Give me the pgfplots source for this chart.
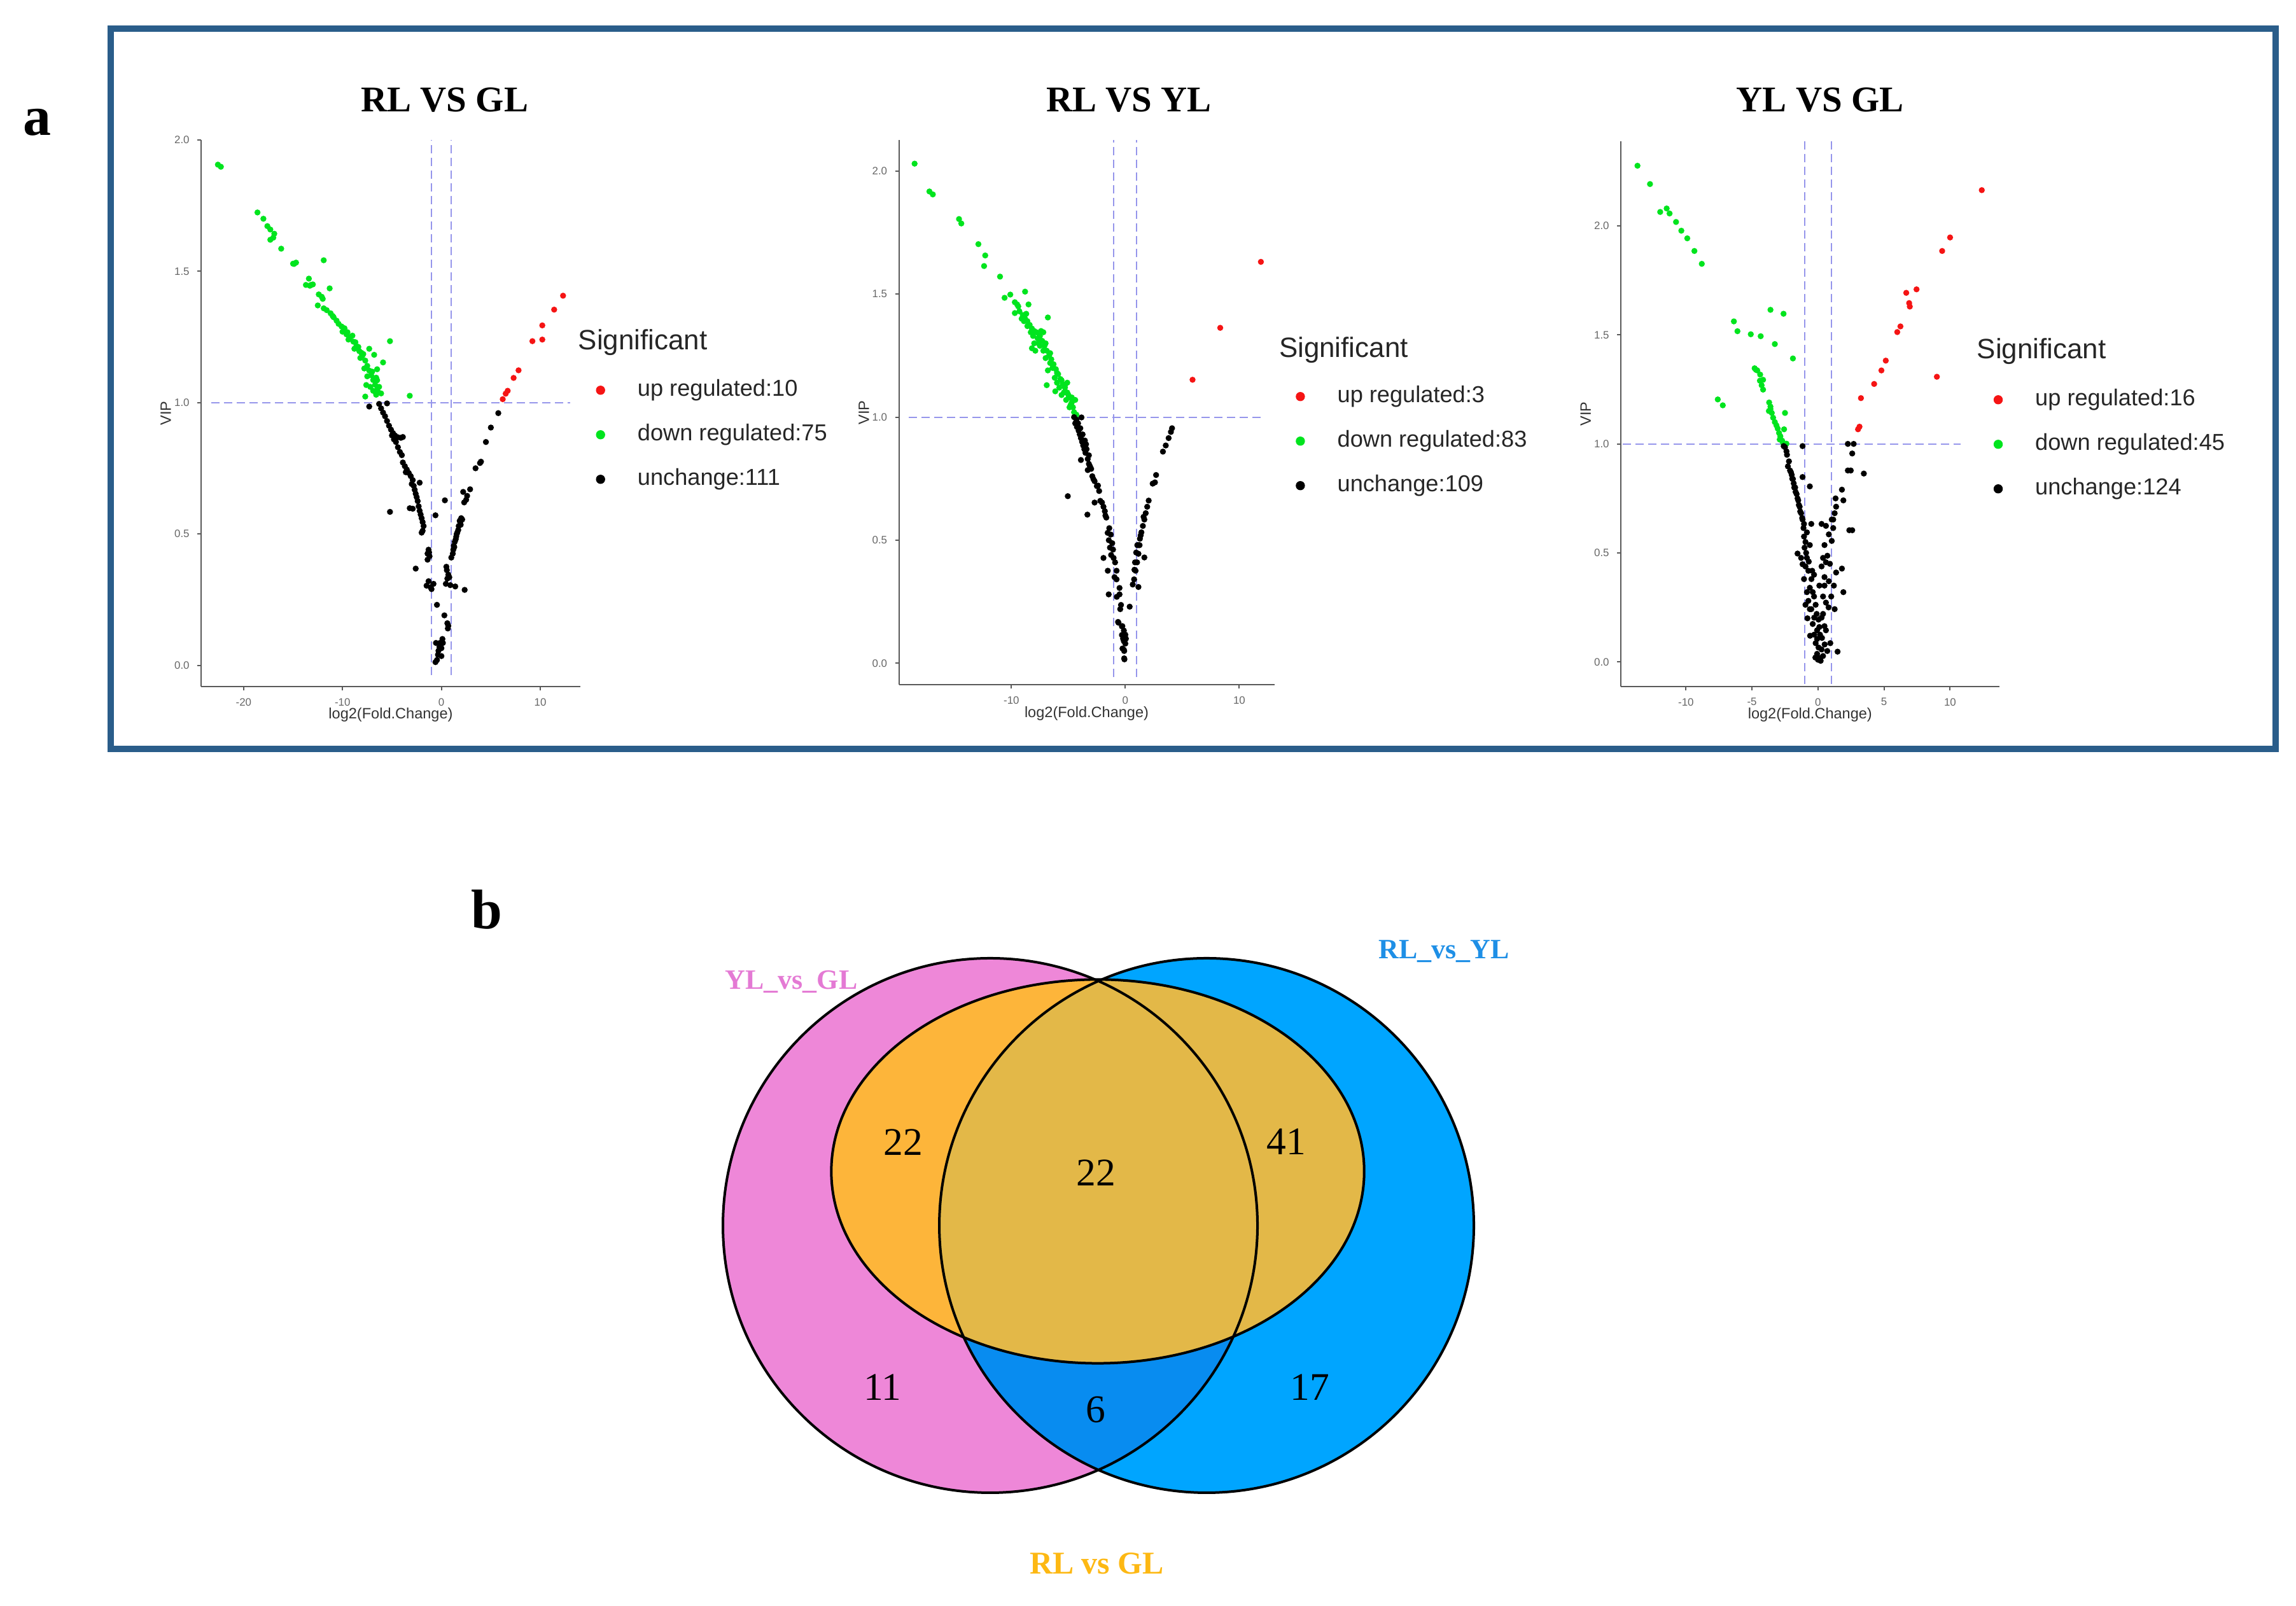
\documentclass[border=0pt]{standalone}
\usepackage{fontspec}
\setmainfont{Liberation Serif}
\newfontfamily\arial{Liberation Sans}
\usepackage{pgfplots}
\pgfplotsset{compat=1.18}
\definecolor{frameblue}{RGB}{42,93,138}
\definecolor{vred}{RGB}{245,20,20}
\definecolor{vgreen}{RGB}{0,228,30}
\definecolor{lav}{RGB}{150,150,235}
\definecolor{vpink}{RGB}{238,135,216}
\definecolor{vblue}{RGB}{0,165,255}
\definecolor{vdblue}{RGB}{8,140,240}
\definecolor{vorange}{RGB}{253,181,58}
\definecolor{vgold}{RGB}{227,184,72}
\definecolor{lpink}{RGB}{228,122,212}
\definecolor{lblue}{RGB}{30,143,230}
\definecolor{lgold}{RGB}{253,184,19}
\pgfplotsset{
  volcano/.style={
    scale only axis, axis lines=left,
    axis line style={-, black!65, line width=0.2mm},
    tick align=outside, major tick length=0.6mm,
    tick style={black!65, line width=0.2mm},
    ytick={0,0.5,1,1.5,2},
    yticklabel style={/pgf/number format/fixed, /pgf/number format/fixed zerofill, /pgf/number format/precision=1},
    tick label style={font=\arial\fontsize{4.8}{5}\selectfont, text=black!60},
    /pgf/number format/assume math mode=true,
    xlabel={log2(Fold.Change)}, ylabel={VIP},
    label style={font=\arial\fontsize{6.7}{8}\selectfont, text=black!80},
    xlabel style={at={(axis description cs:0.5,-0.052)}, anchor=center},
    ylabel style={at={(axis description cs:-0.093,0.5)}, anchor=center},
    clip=false,
    legend cell align=left,
    legend style={draw=none, fill=none, inner sep=0pt, outer sep=0pt, anchor=north west,
       font=\arial\fontsize{10.3}{12}\selectfont, row sep=3.6mm, column sep=5.1mm,
       nodes={inner sep=0pt, text height=2.6mm, text depth=0.8mm, text=black!85}},
  },
  vpt/.style={only marks, mark=*, mark size=0.4mm, mark options={draw=none, fill=#1}, color=#1,
     legend image code/.code={\fill[#1] (0,0) circle (0.65mm);}},
  vline/.style={lav, dash pattern=on 1.3mm off 0.7mm, line width=0.2mm, forget plot},
}
\begin{document}
\begin{tikzpicture}
\path[use as bounding box] (0,0) rectangle (360.8mm,252.4mm);
% ---------- background: frame, Venn, texts ----------
\begin{axis}[at={(0mm,0mm)}, anchor=south west, scale only axis, width=360.8mm, height=252.4mm,
  xmin=0, xmax=3608, ymin=0, ymax=2524, hide axis, clip=false]
\draw[frameblue, line width=1mm] (axis cs:174,1347) rectangle (axis cs:3575.5,2479);
\node[font=\bfseries\fontsize{25}{30}\selectfont, anchor=base, inner sep=0pt] at (axis cs:58.5,2311) {a};
\node[font=\bfseries\fontsize{25}{30}\selectfont, anchor=base, inner sep=0pt] at (axis cs:765,1064) {b};
\node[font=\bfseries\fontsize{16.2}{19}\selectfont, inner sep=0pt] at (axis cs:698.75,2367.2) {RL VS GL};
\node[font=\bfseries\fontsize{16.2}{19}\selectfont, inner sep=0pt] at (axis cs:1773.8,2367.2) {RL VS YL};
\node[font=\bfseries\fontsize{16.2}{19}\selectfont, inner sep=0pt] at (axis cs:2860,2367.2) {YL VS GL};
\node[font=\arial\fontsize{12.5}{14}\selectfont, anchor=base west, inner sep=0pt, text=black!85] at (axis cs:908,1974) {Significant};
\node[font=\arial\fontsize{12.5}{14}\selectfont, anchor=base west, inner sep=0pt, text=black!85] at (axis cs:2009.3,1962.3) {Significant};
\node[font=\arial\fontsize{12.5}{14}\selectfont, anchor=base west, inner sep=0pt, text=black!85] at (axis cs:3106,1960.7) {Significant};
% Venn
\fill[vpink] (axis cs:1556,598) circle [radius=42mm];
\fill[vblue] (axis cs:1896,598) circle [radius=42mm];
\begin{scope}
 \clip (axis cs:1556,598) circle [radius=42mm];
 \fill[vdblue] (axis cs:1896,598) circle [radius=42mm];
\end{scope}
\fill[vgold] (axis cs:1725,683) ellipse [x radius=41.87mm, y radius=30.16mm];
\begin{scope}
 \clip (axis cs:1725,683) ellipse [x radius=41.87mm, y radius=30.16mm];
 \clip (axis cs:1556,598) circle [radius=42mm];
 \fill[vorange] (axis cs:1556,598) circle [radius=42mm];
 \fill[vgold] (axis cs:1896,598) circle [radius=42mm];
\end{scope}
\draw[black, line width=0.4mm] (axis cs:1556,598) circle [radius=42mm];
\draw[black, line width=0.4mm] (axis cs:1896,598) circle [radius=42mm];
\draw[black, line width=0.4mm] (axis cs:1725,683) ellipse [x radius=41.87mm, y radius=30.16mm];
\node[font=\fontsize{17.5}{20}\selectfont, inner sep=0pt] at (axis cs:1419,729.3) {22};
\node[font=\fontsize{17.5}{20}\selectfont, inner sep=0pt] at (axis cs:1722,680.6) {22};
\node[font=\fontsize{17.5}{20}\selectfont, inner sep=0pt] at (axis cs:2021,729.3) {41};
\node[font=\fontsize{17.5}{20}\selectfont, inner sep=0pt] at (axis cs:1387,344) {11};
\node[font=\fontsize{17.5}{20}\selectfont, inner sep=0pt] at (axis cs:1722,309) {6};
\node[font=\fontsize{17.5}{20}\selectfont, inner sep=0pt] at (axis cs:2058.5,344) {17};
\node[font=\bfseries\fontsize{12.5}{15}\selectfont, text=lpink, anchor=base, inner sep=0pt] at (axis cs:1243.6,969.3) {YL\_vs\_GL};
\node[font=\bfseries\fontsize{12.5}{15}\selectfont, text=lblue, anchor=base, inner sep=0pt] at (axis cs:2269,1017.3) {RL\_vs\_YL};
\node[font=\bfseries\fontsize{14.2}{17}\selectfont, text=lgold, anchor=base, inner sep=0pt] at (axis cs:1723.5,50) {RL vs GL};
\end{axis}
% ---------- panel 1 ----------
\begin{axis}[volcano, at={(31.6mm,144.5mm)}, anchor=south west, width=59.6mm, height=85.9mm,
  xmin=-24.3, xmax=14.05, ymin=-0.081, ymax=2.0, xtick={-20,-10,0,10},
  legend style={at={(axis description cs:1.0411,0.5619)}}]
\addplot[vline] coordinates {(-23.3,1) (13.0,1)};
\addplot[vline] coordinates {(-1,-0.037) (-1,2.0)};
\addplot[vline] coordinates {(1,-0.037) (1,2.0)};
\addplot[vpt=vred] coordinates {(6.2,1.013) (6.5,1.034) (6.7,1.045) (7.3,1.094) (7.8,1.123) (9.2,1.234) (10.2,1.240) (10.2,1.294) (11.4,1.354) (12.3,1.407)};
\addlegendentry{up regulated:10}
\addplot[vpt=vgreen] coordinates {(-22.6,1.906) (-22.3,1.898) (-18.6,1.724) (-18.0,1.700) (-17.6,1.672) (-17.3,1.659) (-16.9,1.643) (-17.3,1.620) (-17.0,1.628) (-16.2,1.586) (-15.0,1.529) (-14.7,1.533) (-11.9,1.542) (-13.4,1.472) (-13.7,1.448) (-13.2,1.448) (-11.3,1.435) (-12.4,1.412) (-12.1,1.403) (-12.5,1.370) (-11.9,1.359) (-11.6,1.352) (-11.2,1.340) (-10.9,1.325) (-10.6,1.312) (-10.1,1.290) (-9.8,1.283) (-9.5,1.268) (-9.2,1.250) (-8.9,1.232) (-8.6,1.215) (-8.3,1.196) (-8.0,1.178) (-7.7,1.160) (-7.5,1.140) (-7.3,1.122) (-7.1,1.104) (-6.9,1.086) (-6.7,1.068) (-6.5,1.050) (-6.4,1.040) (-7.3,1.205) (-6.8,1.182) (-5.2,1.234) (-5.9,1.153) (-6.5,1.127) (-6.5,1.085) (-7.6,1.067) (-7.7,1.023) (-3.2,1.026) (-7.9,1.185) (-7.8,1.130) (-7.5,1.100) (-7.2,1.060) (-6.9,1.045) (-6.6,1.030) (-9.6,1.260) (-10.4,1.300) (-10.0,1.270) (-9.0,1.255) (-8.7,1.230) (-8.4,1.212) (-8.1,1.190) (-11.0,1.330) (-12.0,1.395) (-13.0,1.450) (-13.3,1.445) (-14.9,1.528) (-9.4,1.240) (-8.8,1.205) (-8.2,1.170) (-7.0,1.118) (-6.6,1.095) (-6.3,1.060) (-6.1,1.035)};
\addlegendentry{down regulated:75}
\addplot[vpt=black] coordinates {(-7.3,0.985) (-6.3,0.995) (-5.5,0.997) (-6.1,0.978) (-5.9,0.962) (-5.7,0.948) (-5.5,0.930) (-5.3,0.912) (-5.1,0.897) (-4.9,0.884) (-4.7,0.875) (-4.4,0.868) (-4.1,0.866) (-3.9,0.869) (-4.6,0.850) (-4.4,0.830) (-4.2,0.812) (-4.0,0.800) (-3.9,0.772) (-3.7,0.758) (-3.5,0.745) (-3.3,0.732) (-3.1,0.720) (-2.9,0.705) (-2.2,0.695) (-2.8,0.683) (-2.7,0.668) (-2.6,0.653) (-2.5,0.640) (-2.4,0.625) (-3.2,0.598) (-2.9,0.596) (-2.3,0.605) (-2.2,0.588) (-2.1,0.574) (-2.0,0.560) (-1.9,0.545) (-1.8,0.530) (-1.9,0.512) (-2.0,0.505) (-5.2,0.584) (-3.6,0.735) (-3.0,0.690) (-4.8,0.860) (-5.0,0.875)
(-0.6,0.571) (0.35,0.628) (-1.3,0.440) (-1.4,0.425) (-1.4,0.402) (-1.2,0.415) (-2.6,0.368) (-1.3,0.320) (-1.1,0.297) (-1.5,0.303) (-0.8,0.310) (0.45,0.310) (0.55,0.362) (0.70,0.345) (0.60,0.330) (1.40,0.300) (2.35,0.287) (-0.45,0.230) (0.30,0.190) (0.70,0.150) (0.60,0.160) (-0.55,0.085) (-0.15,0.085) (0.15,0.085) (-0.30,0.055) (0.00,0.065) (-0.45,0.020) (-0.60,0.012) (0.00,0.035) (-0.20,0.070) (0.50,0.375) (0.80,0.335) (-1.25,0.430) (-1.00,0.290) (0.90,0.305) (0.10,0.100) (-0.35,0.040) (0.65,0.140)
(1.00,0.410) (1.15,0.425) (1.20,0.440) (1.30,0.450) (1.35,0.470) (1.45,0.480) (1.50,0.490) (1.60,0.505) (1.70,0.515) (1.75,0.530) (1.90,0.545) (2.00,0.560) (2.10,0.555) (1.95,0.535) (2.30,0.620) (2.60,0.645) (2.20,0.660) (2.90,0.670) (2.50,0.630) (3.45,0.750) (4.00,0.775) (3.90,0.770) (4.50,0.850) (5.00,0.905) (5.75,0.960) (1.85,0.550) (1.25,0.455) (1.55,0.500)};
\addlegendentry{unchange:111}
\end{axis}
% ---------- panel 2 ----------
\begin{axis}[volcano, at={(141.25mm,144.75mm)}, anchor=south west, width=59.0mm, height=85.6mm,
  xmin=-19.88, xmax=13.08, ymin=-0.088, ymax=2.125, xtick={-10,0,10},
  legend style={at={(axis description cs:1.0571,0.5493)}}]
\addplot[vline] coordinates {(-19.0,1) (12.2,1)};
\addplot[vline] coordinates {(-1,-0.057) (-1,2.125)};
\addplot[vline] coordinates {(1,-0.057) (1,2.125)};
\addplot[vpt=vred] coordinates {(5.9,1.152) (8.33,1.363) (11.9,1.631)};
\addlegendentry{up regulated:3}
\addplot[vpt=vgreen] coordinates {(-18.5,2.03) (-17.2,1.917) (-16.9,1.905) (-14.6,1.805) (-14.4,1.787) (-12.9,1.703) (-12.3,1.657) (-12.4,1.614) (-11.0,1.571) (-10.6,1.485) (-10.1,1.498) (-9.7,1.467) (-9.5,1.458) (-9.7,1.423) (-8.8,1.51) (-8.5,1.458)
(-9.0,1.415) (-8.8,1.400) (-8.6,1.390) (-8.4,1.375) (-8.2,1.360) (-8.0,1.350) (-7.8,1.345) (-7.6,1.340) (-7.5,1.330) (-7.3,1.310) (-7.1,1.290) (-6.9,1.270) (-6.7,1.250) (-6.5,1.235) (-6.3,1.215) (-6.1,1.195) (-5.9,1.175) (-5.7,1.155) (-5.5,1.135) (-5.3,1.120) (-5.1,1.100) (-4.9,1.080) (-4.7,1.060) (-4.6,1.040) (-4.5,1.020)
(-8.2,1.280) (-7.9,1.270) (-8.0,1.300) (-7.4,1.350) (-7.2,1.345) (-6.8,1.405) (-6.9,1.130) (-6.15,1.105) (-5.1,1.140) (-5.2,1.070) (-4.4,1.070) (-4.8,1.050) (-5.0,1.090) (-5.6,1.150) (-5.8,1.120) (-6.0,1.140) (-6.4,1.200) (-6.6,1.220) (-7.0,1.240) (-7.2,1.270) (-7.6,1.300) (-7.7,1.320) (-8.3,1.345) (-8.6,1.370) (-8.9,1.390) (-9.1,1.400) (-7.0,1.300) (-6.2,1.160) (-5.4,1.100) (-4.9,1.040) (-4.3,1.010) (-9.4,1.450) (-6.8,1.190) (-5.6,1.090)
(-8.1,1.33) (-7.5,1.29) (-6.6,1.26) (-6.0,1.18) (-5.3,1.13) (-4.7,1.08) (-8.7,1.42) (-9.3,1.43)};
\addlegendentry{down regulated:83}
\addplot[vpt=black] coordinates {(-4.5,1.0) (-3.85,0.999) (-4.4,0.975) (-4.25,0.96) (-4.1,0.945) (-4.0,0.93) (-3.9,0.915) (-3.8,0.90) (-3.7,0.885) (-3.6,0.87)
(-3.9,0.826) (-3.5,0.855) (-3.3,0.83) (-3.2,0.81) (-3.1,0.80) (-3.0,0.79) (-3.3,0.785) (-2.8,0.748) (-2.7,0.74) (-2.4,0.722)
(-3.33,0.604) (-5.05,0.679) (-2.7,0.653) (-2.05,0.653) (-1.92,0.636) (-1.8,0.618) (-1.67,0.592) (-1.41,0.549) (-1.28,0.523) (-1.15,0.488)
(-1.08,0.462) (-1.03,0.428) (-0.9,0.41) (-0.77,0.376) (-0.77,0.341) (-0.51,0.306) (-1.92,0.428) (-1.54,0.376) (-1.46,0.28) (-0.51,0.28)
(-0.38,0.237) (-0.64,0.168) (-0.26,0.151) (-0.13,0.133) (0.0,0.116) (-0.13,0.09) (-0.13,0.055) (-0.08,0.016) (-0.3,0.15) (-0.1,0.12)
(-0.2,0.10) (0.0,0.08) (-0.1,0.05) (-0.1,0.02) (0.38,0.23) (-0.6,0.165) (-0.3,0.115)
(0.77,0.341) (0.9,0.376) (1.03,0.41) (1.15,0.445) (1.15,0.48) (1.28,0.506) (1.41,0.532) (1.54,0.558) (1.67,0.584) (1.79,0.61) (1.92,0.636) (2.05,0.661) (1.15,0.31) (1.67,0.43) (2.4,0.73) (2.7,0.765) (2.6,0.735) (3.3,0.86) (3.55,0.885) (3.8,0.915) (4.0,0.94) (4.1,0.955) (0.85,0.41) (0.95,0.45) (1.05,0.48) (1.35,0.52) (1.6,0.595)
(-4.3,0.99) (-4.15,0.975) (-3.95,0.955) (-3.75,0.93) (-3.55,0.905) (-3.45,0.89) (-3.4,0.87) (-3.2,0.845) (-2.9,0.76) (-2.5,0.72) (-2.3,0.70) (-2.2,0.66) (-1.75,0.60) (-1.55,0.53) (-1.45,0.50) (-1.35,0.47) (-1.25,0.44) (-0.95,0.35) (-0.75,0.27) (-0.45,0.22) (0.05,0.10) (-0.25,0.06) (0.65,0.32) (0.8,0.38) (1.25,0.48)};
\addlegendentry{unchange:109}
\end{axis}
% ---------- panel 3 ----------
\begin{axis}[volcano, at={(254.7mm,144.5mm)}, anchor=south west, width=59.46mm, height=85.72mm,
  xmin=-14.93, xmax=13.72, ymin=-0.113, ymax=2.389, xtick={-10,-5,0,5,10},
  legend style={at={(axis description cs:0.9852,0.5456)}}]
\addplot[vline] coordinates {(-14.8,1) (10.8,1)};
\addplot[vline] coordinates {(-1,-0.1) (-1,2.389)};
\addplot[vline] coordinates {(1,-0.1) (1,2.389)};
\addplot[vpt=vred] coordinates {(3.03,1.067) (3.14,1.079) (3.25,1.210) (4.25,1.275) (4.80,1.337) (5.13,1.382) (6.00,1.513) (6.24,1.539) (6.68,1.693) (6.90,1.646) (6.95,1.630) (7.46,1.709) (9.00,1.308) (9.40,1.885) (10.00,1.947) (12.40,2.164)};
\addlegendentry{up regulated:16}
\addplot[vpt=vgreen] coordinates {(-13.67,2.276) (-12.72,2.192) (-11.95,2.064) (-11.46,2.080) (-11.24,2.057) (-10.75,2.018) (-10.35,1.978) (-9.90,1.943) (-9.36,1.885) (-8.80,1.826) (-6.37,1.562) (-6.10,1.517) (-5.09,1.503) (-4.34,1.494) (-3.60,1.615) (-2.61,1.597) (-3.27,1.458) (-1.90,1.392) (-7.59,1.204) (-7.21,1.177) (-4.80,1.347) (-4.60,1.337) (-4.38,1.318) (-4.16,1.294) (-4.27,1.269) (-4.16,1.249) (-3.70,1.190) (-3.60,1.171) (-3.72,1.151) (-3.50,1.142) (-3.27,1.100) (-3.15,1.085) (-3.05,1.070) (-2.95,1.050) (-2.85,1.035) (-2.72,1.015) (-2.50,1.142) (-2.57,1.067) (-2.39,1.001) (-2.65,1.005) (-3.40,1.120) (-4.70,1.340) (-4.40,1.290) (-3.60,1.160) (-2.90,1.020)};
\addlegendentry{down regulated:45}
\addplot[vpt=black] coordinates {(-2.5,0.985) (-2.39,0.966) (-2.28,0.897) (-2.12,0.878) (-1.99,0.858) (-1.90,0.839) (-1.84,0.819) (-1.73,0.800) (-1.62,0.770) (-1.50,0.741) (-1.39,0.712) (-1.28,0.682) (-1.17,0.653) (-1.06,0.633) (-2.60,0.990) (-2.35,0.950) (-2.20,0.920) (-2.05,0.870) (-1.95,0.840) (-1.80,0.800) (-1.70,0.780) (-1.55,0.750) (-1.45,0.720) (-1.35,0.690) (-1.20,0.660) (-1.17,0.990) (-1.17,0.848) (-0.62,0.805)
(-1.55,0.497) (-1.17,0.448) (-0.51,0.633) (-0.62,0.536) (-0.84,0.477) (-0.73,0.418) (-0.44,0.418) (-0.62,0.340) (-0.40,0.320) (-0.73,0.280) (-0.51,0.242) (-0.18,0.262) (-0.29,0.203) (0.04,0.194) (0.27,0.203) (0.38,0.220) (-0.07,0.145) (0.15,0.125) (-0.18,0.086) (0.04,0.066) (-0.07,0.037) (0.15,0.018) (0.38,0.027) (0.27,0.057) (0.93,0.086) (1.48,0.047)
(0.49,0.389) (0.60,0.457) (0.71,0.487) (0.49,0.350) (0.82,0.370) (0.60,0.272) (1.26,0.242) (1.37,0.410) (0.27,0.633) (0.60,0.624) (0.82,0.585) (1.04,0.555) (1.15,0.653) (1.26,0.682) (1.37,0.712) (1.81,0.790) (1.92,0.741) (1.81,0.428) (1.92,0.320) (2.26,1.000) (2.70,1.000) (2.59,0.956) (2.26,0.878) (2.48,0.878)
(3.47,0.864) (2.37,0.604) (2.59,0.604)
(-1.06,0.575) (-0.95,0.550) (-1.02,0.524) (-0.84,0.594) (-1.10,0.614) (-1.28,0.477) (-0.95,0.438) (-1.06,0.380) (-0.84,0.320) (-0.95,0.262) (-0.62,0.242) (-0.40,0.174) (-0.29,0.125) (-0.07,0.105) (0.49,0.164) (0.60,0.145) (0.38,0.300) (0.27,0.438) (0.38,0.477) (0.49,0.536) (1.15,0.614) (1.33,0.750) (1.04,0.653)
(-0.90,0.500) (-0.70,0.460) (-0.50,0.380) (-0.30,0.300) (-0.10,0.220) (0.10,0.160) (0.30,0.110) (0.50,0.080) (0.70,0.050) (-0.20,0.020) (0.00,0.010) (0.20,0.005) (-0.80,0.200) (-0.60,0.120) (0.80,0.250) (1.00,0.300) (1.20,0.350) (0.90,0.450) (-0.30,0.400) (0.10,0.350)};
\addlegendentry{unchange:124}
\end{axis}
\end{tikzpicture}
\end{document}
